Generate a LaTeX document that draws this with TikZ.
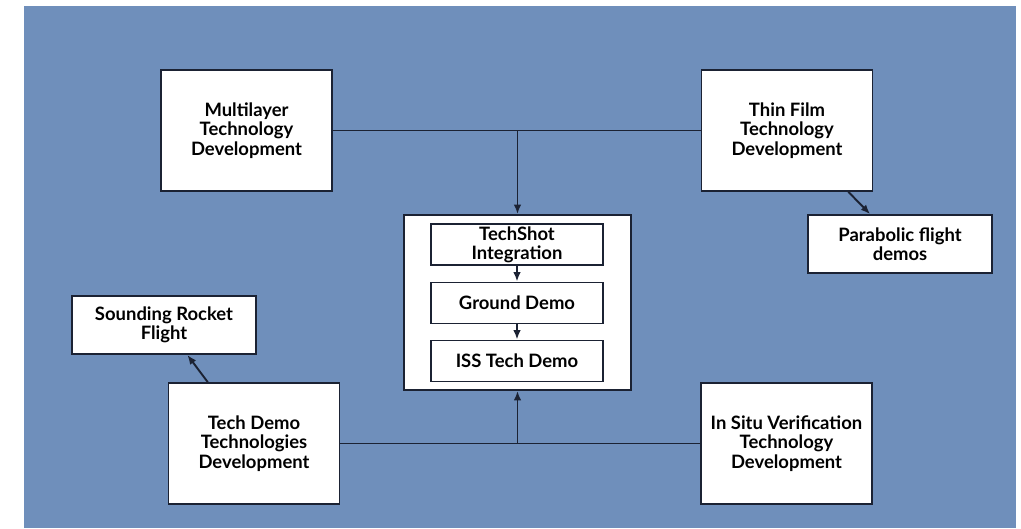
\documentclass[tikz,border=0pt]{standalone}
\usepackage{fontspec}
\setmainfont{Lato}
\usetikzlibrary{arrows.meta,positioning}
\definecolor{slideblue}{HTML}{6F8FBB}
\definecolor{edgeink}{HTML}{1B2233}
\begin{document}
\begin{tikzpicture}[x=0.02cm, y=-0.02cm,
    box/.style={draw=edgeink, line width=1pt, fill=white, align=center, inner sep=0pt,
      font=\bfseries\fontsize{10.5}{11}\selectfont},
    bigbox/.style={box, minimum width=3.42cm, minimum height=2.42cm},
    sidebox/.style={box, minimum width=3.68cm, minimum height=1.16cm},
    stepbox/.style={box, minimum width=3.44cm, minimum height=0.82cm},
    link/.style={draw=edgeink, line width=1.1pt},
    arr/.style={link, -{Latex[length=1.9mm,width=1.5mm]}}]
    \useasboundingbox (0,0) rectangle (1021,528);
    \fill[slideblue] (24,6) rectangle (1016,528);
    % development boxes
    \node[bigbox] (multi) at (246.5,130.5) {Multilayer\\Technology\\Development};
    \node[bigbox] (thin) at (787,130.5) {Thin Film\\Technology\\Development};
    \node[bigbox] (techdemo) at (254,443.5) {Tech Demo\\Technologies\\Development};
    \node[bigbox] (insitu) at (786.5,443.5) {In Situ Verification\\Technology\\Development};
    % flights
    \node[sidebox] (para) at (900,244) {Parabolic flight\\demos};
    \node[sidebox] (sound) at (164,325) {Sounding Rocket\\Flight};
    % centre block
    \node[box, minimum width=4.54cm, minimum height=3.5cm] (outer) at (517.5,302.5) {};
    \node[stepbox] (techshot) at (517,244.5) {TechShot\\Integration};
    \node[stepbox] (ground) at (517,303) {Ground Demo};
    \node[stepbox] (iss) at (517,361) {ISS Tech Demo};
    \draw[arr] (techshot) -- (ground);
    \draw[arr] (ground) -- (iss);
    % feeds
    \draw[link] (multi.east) -- (thin.west);
    \draw[arr] (multi.east -| outer.north) -- (outer.north);
    \draw[link] (techdemo.east) -- (insitu.west);
    \draw[arr] (techdemo.east -| outer.south) -- (outer.south);
    \draw[arr] (thin.-45) -- (para.135);
    \draw[arr] (techdemo.127) -- (sound.-52);
\end{tikzpicture}
\end{document}
